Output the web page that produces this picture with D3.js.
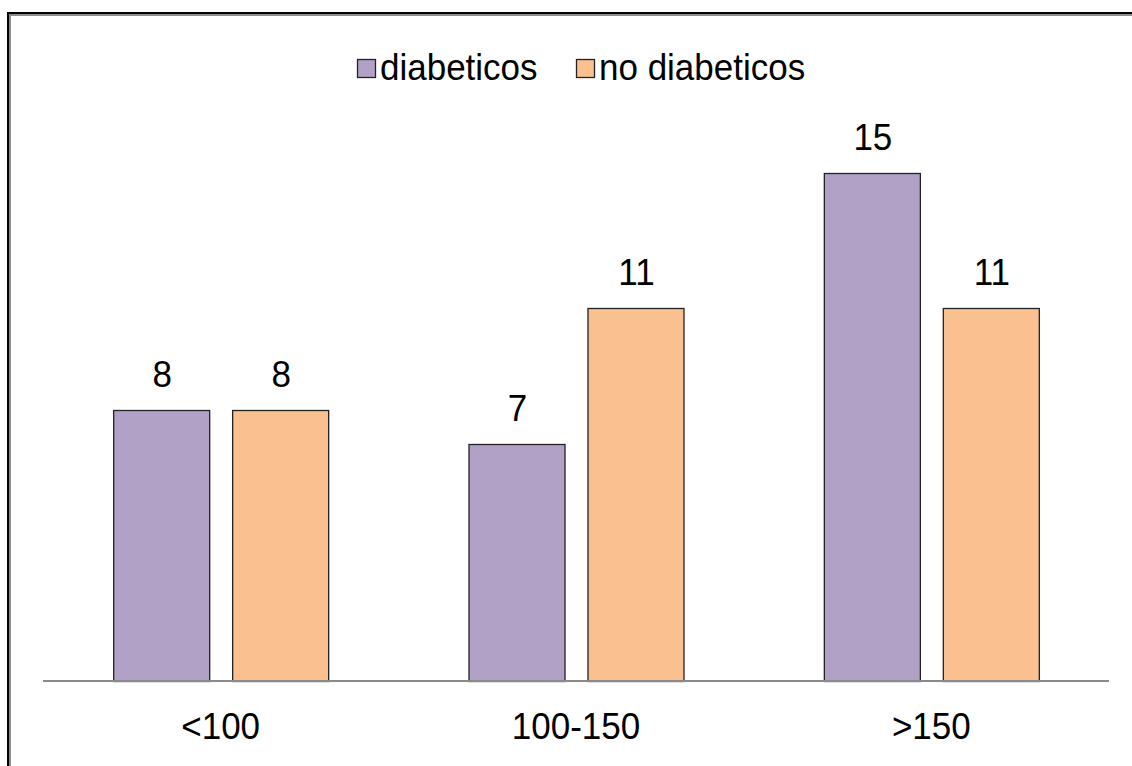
<!DOCTYPE html>
<html><head><meta charset="utf-8">
<script src="https://cdn.jsdelivr.net/npm/d3@7"></script>
<style>html,body{margin:0;padding:0;background:#fff;overflow:hidden}</style>
</head><body>
<svg id="c" width="1132" height="766"></svg>
<script>
const categories = ["<100", "100-150", ">150"];
const seriesNames = ["diabeticos", "no diabeticos"];
const diabeticos = [8, 7, 15];
const noDiabeticos = [8, 11, 11];
const colors = ["#B2A1C7", "#FAC090"];

const svg = d3.select("#c");
const W = 1132, H = 766;
const font = "'Liberation Sans', Arial, sans-serif";
const SY = 1.07;

svg.append("rect").attr("width", W).attr("height", H).attr("fill", "#fff");
// frame
svg.append("path").attr("d", `M10,${H} V15 H${W}`).attr("fill", "none").attr("stroke", "#8c8c8c").attr("stroke-width", 2);
svg.append("path").attr("d", `M8,${H} V13 H${W}`).attr("fill", "none").attr("stroke", "#000").attr("stroke-width", 2);

const left = 43, right = 1109, base = 681;
const x0 = d3.scaleBand().domain(categories).range([left, right]).paddingInner(0.395).paddingOuter(0.1975);
const x1 = d3.scaleBand().domain(seriesNames).range([0, x0.bandwidth()]).paddingInner(0.193);
const y = d3.scaleLinear().domain([0, 16]).range([base, base - 16 * 33.9]);

const rows = categories.map((c, i) => ({cat: c, vals: [diabeticos[i], noDiabeticos[i]]}));

const g = svg.append("g");
const grp = g.selectAll("g.grp").data(rows).enter().append("g")
  .attr("transform", d => `translate(${x0(d.cat)},0)`);
grp.selectAll("rect").data(d => d.vals.map((v, j) => ({v, s: seriesNames[j], j})))
  .enter().append("rect")
  .attr("x", d => x1(d.s) + 0.5)
  .attr("y", d => Math.round(y(d.v)) + 0.5)
  .attr("width", x1.bandwidth())
  .attr("height", d => base - Math.round(y(d.v)))
  .attr("fill", d => colors[d.j])
  .attr("stroke", "#222").attr("stroke-width", 1.3);
grp.selectAll("text").data(d => d.vals.map((v, j) => ({v, s: seriesNames[j]})))
  .enter().append("text")
  .attr("transform", d => `translate(${x1(d.s) + x1.bandwidth() / 2 + 1},${y(d.v) - 23}) scale(1,${SY})`)
  .attr("text-anchor", "middle")
  .attr("font-family", font).attr("font-size", 35).attr("fill", "#000")
  .text(d => d.v);

// axis
const axis = d3.axisBottom(x0).tickSize(0).tickPadding(0);
const ax = svg.append("g").attr("transform", `translate(0,${base})`).call(axis);
ax.select(".domain").attr("stroke", "#8a8a8a").attr("stroke-width", 2).attr("d", `M${left},0H${right}`);
ax.selectAll("text").attr("font-family", font).attr("font-size", 35).attr("fill", "#000")
  .attr("dy", null).attr("y", null).attr("transform", `translate(0,57.5) scale(1,${SY})`);

// legend
const leg = svg.append("g");
const legX = [357, 576];
seriesNames.forEach((s, j) => {
  leg.append("rect").attr("x", legX[j] + 0.5).attr("y", 59.5).attr("width", 18).attr("height", 18)
    .attr("fill", colors[j]).attr("stroke", "#222").attr("stroke-width", 1.3);
  leg.append("text").attr("transform", `translate(${legX[j] + 23},79.5) scale(1,${SY})`)
    .attr("font-family", font).attr("font-size", 35).attr("fill", "#000").text(s);
});
</script>
</body></html>
